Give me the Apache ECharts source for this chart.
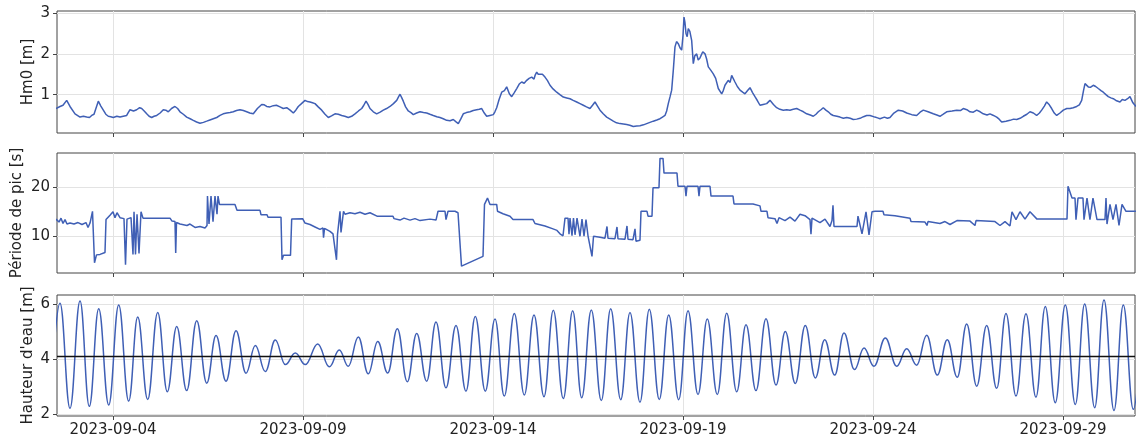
<!DOCTYPE html>
<html>
<head>
<meta charset="utf-8">
<script src="https://cdn.jsdelivr.net/npm/echarts@6/dist/echarts.min.js"></script>
<style>
html,body{margin:0;padding:0;background:#fff;}
#chart{width:1136px;height:442px;}
</style>
</head>
<body>
<div id="chart"></div>
<script>
// Time is stored as fractional day-of-September 2023 (UTC), e.g. 4.0 = 2023-09-04 00:00
const tickDates = ['2023-09-04','2023-09-09','2023-09-14','2023-09-19','2023-09-24','2023-09-29'];
const xMinDay = 2.526, xMaxDay = 30.895;

const hm0Day = [2.50,2.605,2.684,2.781,2.868,3.000,3.132,3.22,3.308,3.439,3.552,3.613,3.745,3.876,4.008,4.10,4.184,4.360,4.447,4.54,4.623,4.755,4.887,5.018,5.150,5.323,5.455,5.631,5.763,5.939,6.113,6.20,6.289,6.466,6.639,6.816,6.992,7.166,7.342,7.518,7.692,7.913,8.045,8.218,8.395,8.571,8.745,8.876,9.053,9.184,9.316,9.492,9.666,9.842,10.018,10.192,10.368,10.545,10.658,10.763,10.939,11.113,11.289,11.466,11.553,11.639,11.771,11.903,12.079,12.255,12.429,12.605,12.781,12.955,13.087,13.218,13.395,13.571,13.703,13.834,14.008,14.097,14.229,14.36,14.492,14.624,14.755,14.887,14.95,15.018,15.08,15.150,15.237,15.30,15.368,15.5,15.676,15.850,16.026,16.203,16.376,16.552,16.684,16.816,16.992,17.166,17.342,17.518,17.692,17.868,18.044,18.218,18.395,18.526,18.613,18.702,18.745,18.789,18.876,18.965,19.026,19.079,19.139,19.228,19.271,19.360,19.40,19.447,19.52,19.579,19.666,19.797,19.929,20.018,20.105,20.281,20.368,20.5,20.631,20.763,20.894,21.026,21.202,21.289,21.465,21.639,21.816,21.992,22.079,22.255,22.429,22.561,22.692,22.823,22.955,23.131,23.308,23.481,23.658,23.834,23.921,24.05,24.184,24.30,24.447,24.666,24.887,25.149,25.324,25.587,25.763,25.939,26.202,26.376,26.552,26.729,26.902,27.079,27.255,27.387,27.605,27.781,27.955,28.131,28.307,28.439,28.570,28.702,28.834,29.008,29.184,29.360,29.492,29.579,29.666,29.797,29.929,30.060,30.192,30.324,30.5,30.631,30.763,30.92];
const hm0Value = [0.66,0.71,0.74,0.86,0.71,0.53,0.45,0.47,0.45,0.49,0.49,0.84,0.62,0.47,0.44,0.47,0.45,0.49,0.63,0.60,0.63,0.66,0.53,0.44,0.49,0.63,0.58,0.71,0.58,0.45,0.37,0.33,0.30,0.35,0.41,0.49,0.55,0.58,0.63,0.58,0.53,0.76,0.71,0.73,0.70,0.68,0.55,0.71,0.86,0.82,0.78,0.62,0.44,0.53,0.49,0.44,0.53,0.66,0.84,0.66,0.53,0.62,0.71,0.86,1.01,0.84,0.60,0.51,0.58,0.55,0.49,0.44,0.37,0.39,0.29,0.53,0.58,0.63,0.66,0.47,0.51,0.68,1.06,1.19,0.95,1.15,1.31,1.35,1.40,1.43,1.38,1.55,1.47,1.50,1.43,1.23,1.06,0.94,0.90,0.82,0.74,0.66,0.82,0.62,0.45,0.35,0.29,0.27,0.22,0.24,0.29,0.35,0.41,0.49,0.78,1.11,1.60,2.17,2.25,2.09,2.90,2.50,2.62,2.33,1.76,2.00,1.85,1.90,2.05,2.00,1.68,1.51,1.15,1.02,1.23,1.47,1.31,1.11,1.02,1.17,0.95,0.74,0.78,0.86,0.68,0.62,0.62,0.66,0.62,0.53,0.47,0.58,0.68,0.58,0.49,0.45,0.44,0.39,0.42,0.49,0.49,0.45,0.41,0.45,0.44,0.62,0.55,0.49,0.62,0.53,0.47,0.58,0.62,0.66,0.58,0.62,0.53,0.53,0.45,0.33,0.37,0.39,0.47,0.58,0.49,0.62,0.82,0.66,0.49,0.62,0.66,0.71,0.86,1.27,1.19,1.23,1.15,1.06,0.95,0.90,0.82,0.86,0.95,0.71];
// extra readings of the short-period fluctuations
const hm0DayExtra = [3.05,3.38,3.50,3.68,3.81,3.94,4.27,4.40,4.70,4.82,4.95,5.08,5.24,5.39,5.54,5.70,5.85,6.03,6.38,6.55,6.73,6.90,7.08,7.25,7.43,7.60,7.80,7.98,8.13,8.30,8.48,8.66,8.81,8.96,9.12,9.25,9.40,9.58,9.75,9.93,10.10,10.28,10.46,10.60,10.71,10.85,11.03,11.20,11.38,11.51,11.60,11.70,11.84,11.99,12.17,12.34,12.52,12.69,12.87,13.02,13.15,13.30,13.48,13.64,13.77,13.92,14.05,14.16,14.30,14.43,14.56,14.69,14.82,15.11,15.19,15.43,15.58,15.76,15.94,16.11,16.29,16.46,16.62,16.75,16.90,17.08,17.25,17.43,17.60,17.78,17.96,18.13,18.31,18.46,18.57,18.66,18.83,18.92,19.0,19.05,19.11,19.18,19.31,19.62,19.73,19.86,20.06,20.19,20.24,20.32,20.43,20.57,20.70,20.83,20.96,21.11,21.25,21.38,21.55,21.73,21.90,22.00,22.17,22.35,22.50,22.63,22.76,22.89,23.05,23.22,23.40,23.57,23.75,24.12,24.38,24.55,24.78,25.02,25.24,25.45,25.68,25.85,26.08,26.30,26.47,26.64,26.82,27.0,27.17,27.32,27.50,27.70,27.87,28.05,28.22,28.38,28.51,28.64,28.77,28.92,29.10,29.27,29.43,29.54,29.62,29.72,29.86,30.0,30.13,30.26,30.41,30.56,30.70,30.84];
const hm0ValueExtra = [0.49,0.44,0.52,0.72,0.52,0.46,0.47,0.56,0.68,0.60,0.47,0.47,0.55,0.62,0.66,0.66,0.52,0.41,0.32,0.38,0.44,0.53,0.56,0.61,0.61,0.55,0.66,0.75,0.70,0.74,0.66,0.62,0.62,0.78,0.83,0.80,0.70,0.52,0.48,0.52,0.47,0.47,0.60,0.74,0.76,0.58,0.57,0.66,0.78,0.94,0.92,0.70,0.56,0.55,0.56,0.52,0.46,0.41,0.36,0.34,0.40,0.56,0.61,0.64,0.55,0.49,0.58,0.88,1.10,1.02,1.05,1.26,1.28,1.48,1.50,1.35,1.14,1.00,0.92,0.86,0.78,0.70,0.74,0.72,0.53,0.40,0.31,0.28,0.25,0.23,0.26,0.32,0.38,0.45,0.60,0.95,2.30,2.15,2.45,2.78,2.42,2.55,1.95,1.88,1.60,1.40,1.10,1.35,1.30,1.40,1.20,1.06,1.10,1.05,0.85,0.76,0.82,0.76,0.64,0.63,0.64,0.64,0.58,0.50,0.52,0.63,0.62,0.52,0.47,0.42,0.42,0.40,0.46,0.43,0.42,0.55,0.60,0.51,0.57,0.58,0.50,0.52,0.60,0.61,0.63,0.57,0.58,0.50,0.49,0.40,0.35,0.40,0.42,0.52,0.55,0.55,0.72,0.75,0.55,0.55,0.66,0.68,0.75,1.10,1.30,1.18,1.20,1.10,1.00,0.92,0.85,0.88,0.90,0.80];

const tpDay = [2.50,2.579,2.632,2.684,2.737,2.789,2.868,2.974,3.079,3.184,3.289,3.342,3.395,3.460,3.513,3.565,3.658,3.684,3.789,3.816,3.921,4.0,4.052,4.105,4.184,4.289,4.329,4.368,4.474,4.526,4.553,4.592,4.632,4.684,4.737,4.789,5.5,5.553,5.631,5.65,5.671,5.763,5.947,6.026,6.158,6.289,6.421,6.474,6.486,6.526,6.579,6.632,6.684,6.737,6.763,6.802,7.21,7.237,7.263,7.868,7.895,8.053,8.079,8.421,8.447,8.487,8.671,8.702,8.99,9.053,9.184,9.316,9.447,9.526,9.54,9.566,9.71,9.789,9.881,9.908,9.974,10.0,10.066,10.105,10.237,10.368,10.5,10.632,10.763,10.947,11.368,11.395,11.553,11.658,11.816,11.947,12.079,12.342,12.5,12.553,12.737,12.763,12.816,13.0,13.079,13.131,13.171,13.211,13.737,13.776,13.855,13.921,14.097,14.118,14.263,14.447,14.526,15.053,15.105,15.368,15.579,15.684,15.763,15.842,15.895,15.974,16.0,16.026,16.079,16.118,16.158,16.211,16.289,16.342,16.395,16.447,16.5,16.605,16.645,16.816,16.947,17.0,17.026,17.21,17.263,17.289,17.474,17.526,17.553,17.684,17.737,17.763,17.868,17.895,18.053,18.079,18.184,18.211,18.368,18.395,18.474,18.5,18.842,18.868,19.053,19.079,19.105,19.395,19.421,19.447,19.711,19.737,20.316,20.342,20.842,20.868,21.026,21.053,21.21,21.237,21.421,21.474,21.526,21.684,21.816,21.947,22.079,22.211,22.342,22.368,22.395,22.605,22.737,22.868,22.921,22.947,22.974,23.263,23.579,23.605,23.711,23.816,23.895,23.974,24.053,24.263,24.289,24.579,24.974,25.0,25.368,25.421,25.447,25.763,25.895,26.026,26.21,26.553,26.684,26.711,27.21,27.342,27.474,27.605,27.658,27.763,27.868,28.0,28.131,28.316,29.105,29.132,29.237,29.316,29.342,29.395,29.526,29.553,29.632,29.71,29.789,29.895,30.105,30.132,30.158,30.237,30.316,30.395,30.474,30.553,30.658,30.92];
const tpValue = [13.5,12.9,13.7,12.6,13.4,12.5,12.7,12.5,12.8,12.4,12.8,11.8,12.7,15.1,4.6,6.2,6.3,6.7,6.7,13.4,14.3,15.0,13.8,14.8,13.8,13.6,4.2,13.5,13.8,6.3,15.0,6.3,14.5,6.5,15.0,13.7,13.7,13.1,13.0,6.6,12.8,12.5,12.2,12.5,11.8,12.0,11.7,12.2,18.2,12.5,18.2,13.0,18.2,14.5,18.2,16.5,16.5,16.2,15.3,15.3,14.4,14.4,13.9,13.9,5.2,6.1,6.1,13.5,13.6,12.7,12.4,11.9,11.4,11.7,9.7,11.6,11.0,10.5,5.2,10.4,15.1,10.8,15.1,14.5,14.8,14.6,14.9,14.5,14.8,14.1,14.1,13.6,13.3,13.7,13.3,13.6,13.2,13.5,13.3,15.1,15.1,13.4,15.1,15.1,14.8,15.0,3.9,4.2,5.9,16.5,17.8,16.5,16.5,15.1,14.6,14.1,13.4,13.4,12.6,12.1,11.5,11.2,10.5,10.1,13.7,13.7,10.4,13.7,10.1,13.7,10.3,13.7,10.0,13.5,10.0,13.4,10.1,5.9,10.0,9.8,9.6,12.0,9.6,9.5,11.9,9.5,9.4,12.1,9.4,9.3,11.5,9.0,9.2,15.1,15.1,14.1,14.1,19.9,19.9,25.9,25.9,22.9,22.9,20.2,20.2,18.2,20.2,20.2,18.2,20.2,20.2,18.2,18.2,16.6,16.6,16.2,16.2,15.1,15.1,13.8,13.6,12.6,13.8,13.2,13.9,13.1,14.5,14.2,13.4,10.4,13.7,12.8,13.5,12.0,13.2,16.3,12.0,12.0,12.0,14.1,10.5,15.0,10.3,15.0,15.1,15.1,14.4,14.2,13.7,13.0,12.9,12.2,13.0,12.6,13.0,12.4,13.2,13.1,12.2,13.2,13.0,12.2,13.0,12.1,15.0,13.4,15.0,13.5,15.0,13.5,13.5,20.2,17.8,17.8,13.4,17.8,17.8,13.4,17.8,13.4,17.8,13.4,13.4,17.8,12.5,16.5,13.4,16.5,12.2,16.5,15.1,15.1];

// Tide: successive high / low waters
const tideDay = [2.342,2.605,2.868,3.132,3.376,3.624,3.887,4.150,4.413,4.650,4.913,5.176,5.429,5.676,5.939,6.203,6.466,6.711,6.974,7.237,7.500,7.745,8.008,8.271,8.534,8.797,9.061,9.387,9.692,9.955,10.192,10.455,10.718,10.966,11.229,11.482,11.745,11.992,12.255,12.500,12.763,13.026,13.289,13.534,13.797,14.053,14.297,14.561,14.824,15.079,15.342,15.587,15.850,16.097,16.334,16.587,16.850,17.097,17.361,17.605,17.868,18.113,18.376,18.624,18.887,19.132,19.395,19.639,19.903,20.150,20.413,20.658,20.921,21.184,21.447,21.692,21.955,22.218,22.482,22.729,22.992,23.237,23.513,23.763,24.026,24.324,24.624,24.887,25.150,25.413,25.692,25.955,26.218,26.466,26.729,26.992,27.255,27.500,27.763,28.026,28.289,28.534,28.797,29.061,29.324,29.571,29.834,30.079,30.342,30.587,30.850,31.11];
const tideLevel = [2.20,6.02,2.22,6.10,2.29,5.82,2.34,5.96,2.48,5.52,2.54,5.69,2.82,5.18,2.86,5.39,3.13,4.85,3.20,5.03,3.49,4.49,3.55,4.69,3.80,4.22,3.80,4.55,3.72,4.33,3.74,4.80,3.47,4.64,3.50,5.10,3.18,4.93,3.20,5.34,2.96,5.22,2.84,5.54,2.84,5.45,2.66,5.65,2.70,5.60,2.64,5.77,2.57,5.75,2.60,5.78,2.50,5.82,2.53,5.69,2.44,5.80,2.54,5.60,2.53,5.75,2.72,5.45,2.72,5.66,2.82,5.24,2.86,5.46,3.06,5.00,3.12,5.22,3.32,4.70,3.42,4.94,3.62,4.40,3.74,4.76,3.74,4.37,3.78,4.86,3.42,4.70,3.34,5.27,3.02,5.22,2.94,5.65,2.66,5.64,2.62,5.90,2.42,5.96,2.36,5.99,2.24,6.14,2.14,5.96,2.18,5.90];
const tideMean = 4.11;

const hm0Ticks = [1, 2, 3];
const tpTicks = [10, 20];
const tideTicks = [2, 4, 6];

const dayToMs = d => Date.UTC(2023, 8, 1) + (d - 1) * 86400000;
const dateToMs = s => Date.parse(s + 'T00:00:00Z');
const pad = n => (n < 10 ? '0' : '') + n;
const fmtDate = v => { const t = new Date(v); return t.getUTCFullYear() + '-' + pad(t.getUTCMonth() + 1) + '-' + pad(t.getUTCDate()); };
const tickMs = tickDates.map(dateToMs);

const hm0Data = hm0Day.map((d, i) => [d, hm0Value[i]])
  .concat(hm0DayExtra.map((d, i) => [d, hm0ValueExtra[i]]))
  .sort((a, b) => a[0] - b[0])
  .map(p => [dayToMs(p[0]), p[1]]);

const FONT = 'DejaVu Sans';
const LINE = '#3f5fb5';
const grids = [
  {left: 57, right: 1, top: 11, height: 122},
  {left: 57, right: 1, top: 153, height: 120},
  {left: 57, right: 1, top: 295, height: 121}
].map(g => Object.assign(g, {show: true, borderColor: '#444', borderWidth: 1, backgroundColor: 'transparent'}));

function xAx(i, showLabels) {
  return {
    type: 'value', gridIndex: i, min: dayToMs(xMinDay), max: dayToMs(xMaxDay),
    axisLine: {show: false},
    axisTick: {show: true, inside: false, length: 4, lineStyle: {color: '#444'}, customValues: tickMs},
    axisLabel: {show: showLabels, customValues: tickMs, formatter: fmtDate, margin: 7,
      fontFamily: FONT, fontSize: 15, color: '#222'},
    splitLine: {show: true, lineStyle: {color: '#e3e3e3', width: 1}}
  };
}
function yAx(i, min, max, ticks, name, gap) {
  return {
    type: 'value', gridIndex: i, min: min, max: max, name: name, nameLocation: 'middle', nameGap: gap,
    nameMoveOverlap: false,
    nameTextStyle: {fontFamily: FONT, fontSize: 15, color: '#222'},
    axisLine: {show: false},
    axisTick: {show: true, inside: false, length: 4, lineStyle: {color: '#444'}, customValues: ticks},
    axisLabel: {customValues: ticks, margin: 7, fontFamily: FONT, fontSize: 15, color: '#222'},
    splitLine: {show: true, lineStyle: {color: '#e3e3e3', width: 1}}
  };
}

const chart = echarts.init(document.getElementById('chart'), null, {renderer: 'canvas'});
chart.setOption({
  animation: false,
  backgroundColor: '#fff',
  grid: grids,
  xAxis: [xAx(0, false), xAx(1, false), xAx(2, true)],
  yAxis: [
    yAx(0, 0.06, 3.05, hm0Ticks, 'Hm0 [m]', 21),
    yAx(1, 2.5, 27.0, tpTicks, 'Période de pic [s]', 32),
    yAx(2, 1.94, 6.32, tideTicks, "Hauteur d'eau [m]", 21)
  ],
  series: [
    {type: 'line', xAxisIndex: 0, yAxisIndex: 0, showSymbol: false, symbol: 'none',
      lineStyle: {color: LINE, width: 1.5}, data: hm0Data},
    {type: 'line', xAxisIndex: 1, yAxisIndex: 1, showSymbol: false, symbol: 'none',
      lineStyle: {color: LINE, width: 1.5}, data: tpDay.map((d, i) => [dayToMs(d), tpValue[i]])},
    {type: 'line', xAxisIndex: 2, yAxisIndex: 2, showSymbol: false, symbol: 'none',
      smooth: 0.42, smoothMonotone: 'x',
      lineStyle: {color: LINE, width: 1.5}, data: tideDay.map((d, i) => [dayToMs(d), tideLevel[i]]),
      markLine: {silent: true, symbol: 'none', label: {show: false}, animation: false,
        lineStyle: {color: '#111', width: 1.3, type: 'solid'}, data: [{yAxis: tideMean}]}}
  ]
});
</script>
</body>
</html>
